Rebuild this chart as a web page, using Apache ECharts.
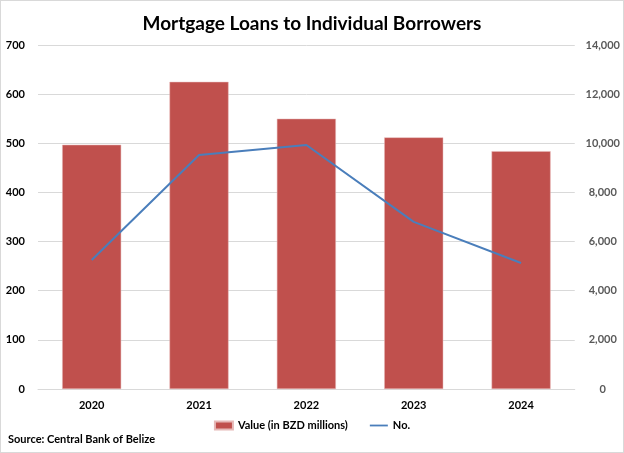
<!DOCTYPE html>
<html>
<head>
<meta charset="utf-8">
<script src="https://cdn.jsdelivr.net/npm/echarts@6/dist/echarts.min.js"></script>
<style>
  html, body { margin: 0; padding: 0; background: #fff; }
  #chart { width: 622px; height: 451px; border: 1px solid #d9d9d9; }
</style>
</head>
<body>
<div id="chart"></div>
<script>
// data
var years = ['2020', '2021', '2022', '2023', '2024'];
var valueMillions = [497, 625, 550, 512, 484];
var loanCount = [5250, 9520, 9930, 6800, 5130];

var chart = echarts.init(document.getElementById('chart'));

var option = {
    animation: false,
    title: {
        text: 'Mortgage Loans to Individual Borrowers',
        left: 'center',
        top: 8,
        textStyle: { fontFamily: 'Lato', fontSize: 19, fontWeight: 'bold', color: '#000' }
    },
    legend: {
        bottom: 16,
        left: 'center',
        itemGap: 22,
        itemWidth: 18,
        itemHeight: 8,
        textStyle: { fontFamily: 'Lato', fontSize: 11, fontWeight: 'bold', color: '#000' },
        data: [
            { name: 'Value (in BZD millions)', icon: 'rect' },
            { name: 'No.', icon: 'path://M0,0 L10,0 L10,1 L0,1 Z' }
        ]
    },
    graphic: [{
        type: 'text',
        left: 7,
        top: 433,
        style: { text: 'Source: Central Bank of Belize', font: 'bold 11px Lato', fill: '#000' }
    }],
    grid: { left: 37, right: 48, top: 44, bottom: 63 },
    xAxis: {
        type: 'category',
        data: years,
        axisTick: { show: false },
        axisLine: { lineStyle: { color: '#d9d9d9' } },
        axisLabel: { fontFamily: 'Lato', fontSize: 11, fontWeight: 'bold', color: '#000', margin: 11 }
    },
    yAxis: [{
        type: 'value',
        min: 0, max: 700, interval: 100,
        axisLabel: { fontFamily: 'Lato', fontSize: 11, fontWeight: 'bold', color: '#000', margin: 13 },
        splitLine: { lineStyle: { color: '#d9d9d9' } }
    }, {
        type: 'value',
        min: 0, max: 14000, interval: 2000,
        axisLabel: {
            fontFamily: 'Lato', fontSize: 11, fontWeight: 'bold', color: '#595959', margin: 28, align: 'center',
            formatter: function (v) { return v.toLocaleString('en-US'); }
        },
        splitLine: { show: false }
    }],
    series: [{
        name: 'Value (in BZD millions)',
        type: 'bar',
        data: valueMillions,
        barWidth: '55%',
        itemStyle: { color: '#c0504d', borderColor: '#e6b9b8', borderWidth: 0.5 }
    }, {
        name: 'No.',
        type: 'line',
        yAxisIndex: 1,
        data: loanCount,
        symbol: 'none',
        lineStyle: { color: '#4a7ebb', width: 2 },
        itemStyle: { color: '#4a7ebb' }
    }]
};

chart.setOption(option);
</script>
</body>
</html>
